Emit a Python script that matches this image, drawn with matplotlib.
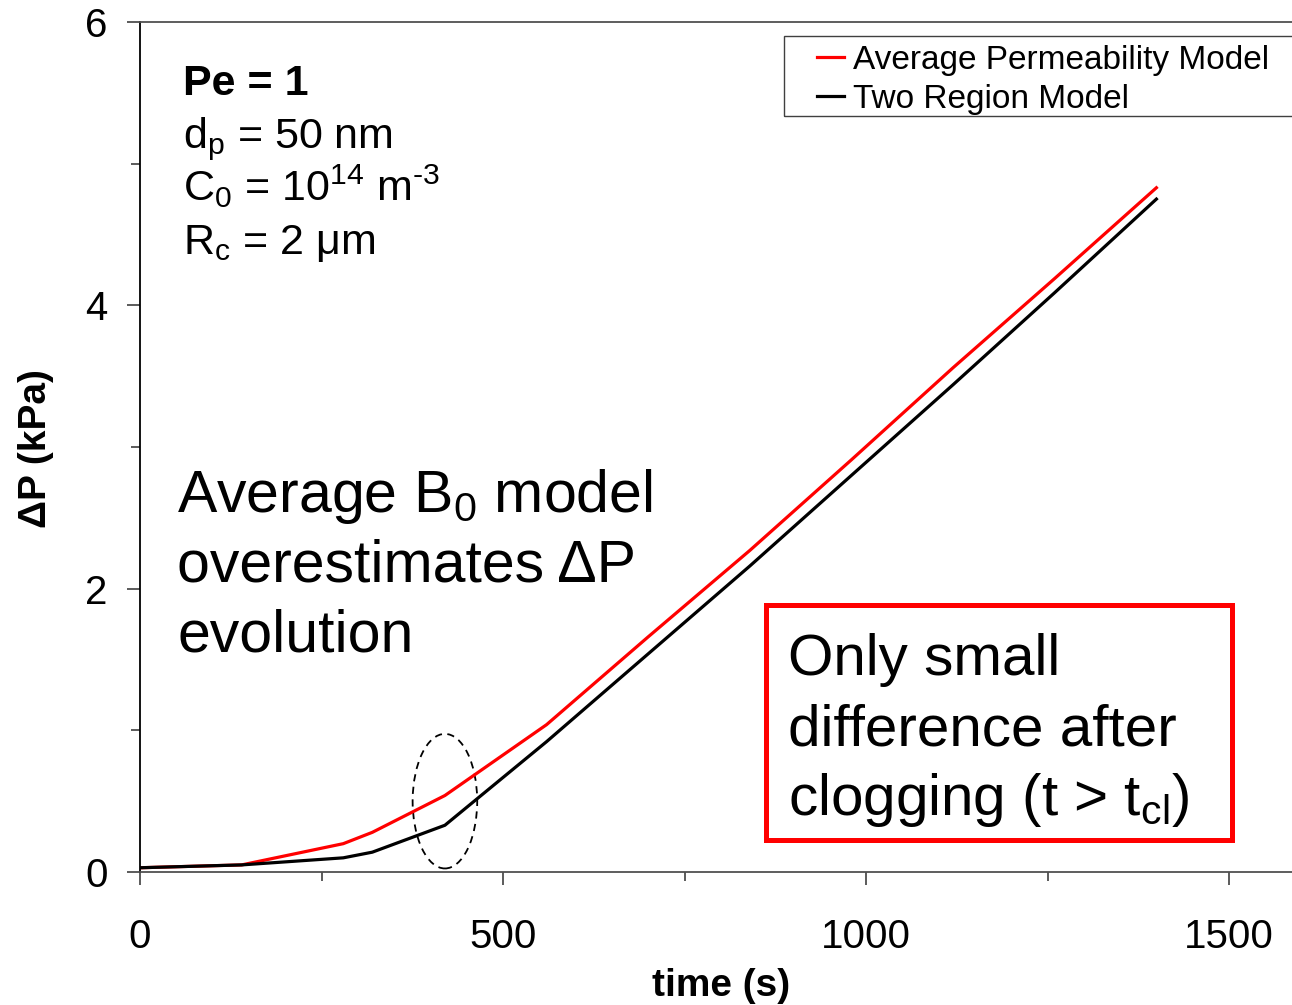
import matplotlib
matplotlib.use('Agg')
import matplotlib.pyplot as plt
from matplotlib.patches import Ellipse, Rectangle
from matplotlib.ticker import MultipleLocator

plt.rcParams['font.family'] = ['Liberation Sans', 'DejaVu Sans']
plt.rcParams['mathtext.fontset'] = 'custom'
plt.rcParams['mathtext.rm'] = 'Liberation Sans'
plt.rcParams['mathtext.it'] = 'Liberation Sans:italic'
plt.rcParams['mathtext.bf'] = 'Liberation Sans:bold'
plt.rcParams['mathtext.default'] = 'regular'

# data (time in s, pressure drop in kPa)
time_s = [0, 140, 280, 320, 420, 560, 700, 840, 980, 1120, 1260, 1400]
dp_avg_perm = [0.03, 0.05, 0.20, 0.28, 0.54, 1.04, 1.66, 2.27, 2.91, 3.56, 4.19, 4.83]
dp_two_region = [0.03, 0.05, 0.10, 0.14, 0.33, 0.92, 1.54, 2.16, 2.80, 3.44, 4.09, 4.75]
series_labels = ['Average Permeability Model', 'Two Region Model']
x_ticks = [0, 500, 1000, 1500]
y_ticks = [0, 2, 4, 6]

W, H = 1292, 1005


def fx(px):
    return px / W


def fy(py):
    return 1 - py / H


fig = plt.figure(figsize=(W / 100, H / 100), dpi=100)
ax = fig.add_axes([fx(140), 133 / H, 1161.6 / W, 850 / H])

ax.plot(time_s, dp_avg_perm, color='#ff0000', lw=2.3, label=series_labels[0])
ax.plot(time_s, dp_two_region, color='black', lw=2.3, label=series_labels[1])

# dashed ellipse around the clogging point
ax.add_patch(Ellipse((420, 0.50), 89, 0.95, fill=False, ec='black',
                     lw=1.3, ls=(0, (4, 3))))

ax.set_xlim(0, 1600)
ax.set_ylim(0, 6)
ax.set_xticks(x_ticks)
ax.set_yticks(y_ticks)
ax.xaxis.set_minor_locator(MultipleLocator(250))
ax.yaxis.set_minor_locator(MultipleLocator(1))
ax.tick_params(which='major', direction='out', length=9.4, width=1.2,
               labelsize=29, color='#404040')
ax.tick_params(which='minor', direction='out', length=6.5, width=1.2,
               color='#404040')
ax.tick_params(axis='x', which='major', pad=24)
ax.tick_params(axis='y', which='major', pad=14)
ax.spines['right'].set_visible(False)
ax.spines['left'].set_color('black')
for s in ['top', 'bottom']:
    ax.spines[s].set_color('#505050')
for s in ['top', 'bottom', 'left']:
    ax.spines[s].set_linewidth(1.3)

ax.set_xlabel('time (s)', fontsize=28, fontweight='bold')
ax.xaxis.label.set_va('baseline')
ax.xaxis.set_label_coords(0.5, (1005 - 996 - 133) / 850)
ax.set_ylabel('ΔP (kPa)', fontsize=28, fontweight='bold')
ax.yaxis.label.set_va('baseline')
ax.yaxis.set_label_coords((46 - 140) / 1161.6, (1005 - 449 - 133) / 850)

# legend (frame drawn separately, it runs off the right edge)
leg = ax.legend(loc='upper left', bbox_to_anchor=(fx(817), fy(45)),
                bbox_transform=fig.transFigure, frameon=False, fontsize=24,
                handlelength=0.82, handletextpad=0.27, labelspacing=0.23,
                borderpad=0, borderaxespad=0)
for h in leg.get_lines():
    h.set_linewidth(2.3)
fig.add_artist(Rectangle((fx(784), fy(116.5)), (1330 - 784) / W, 80 / H,
                         transform=fig.transFigure, fill=False,
                         ec='#404040', lw=1.0))

# parameter block
fig.text(fx(183), fy(95), 'Pe = 1', fontsize=31, fontweight='bold', va='baseline')
fig.text(fx(183), fy(148), 'd$_{p}$ = 50 nm', fontsize=31, va='baseline')
fig.text(fx(183), fy(201), 'C$_{0}$ = 10$^{14}$ m$^{\\text{-3}}$', fontsize=31, va='baseline')
fig.text(fx(183), fy(254), 'R$_{c}$ = 2 μm', fontsize=31, va='baseline')

# annotation on the left
fig.text(fx(177), fy(512), 'Average B$_{0}$ model', fontsize=42.5, va='baseline')
fig.text(fx(177), fy(582), 'overestimates ΔP', fontsize=42.5, va='baseline')
fig.text(fx(177), fy(652), 'evolution', fontsize=42.5, va='baseline')

# boxed annotation
fig.add_artist(Rectangle((fx(765.5), fy(839.5)), (1231.5 - 765.5) / W,
                         (839.5 - 604.5) / H, transform=fig.transFigure,
                         fill=False, ec='#ff0000', lw=3.6))
fig.text(fx(788), fy(675), 'Only small', fontsize=42, va='baseline')
fig.text(fx(788), fy(745), 'difference after', fontsize=42, va='baseline')
fig.text(fx(788), fy(815), 'clogging (t > t$_{cl}$)', fontsize=42, va='baseline')

fig.savefig('out.png', dpi=100)
